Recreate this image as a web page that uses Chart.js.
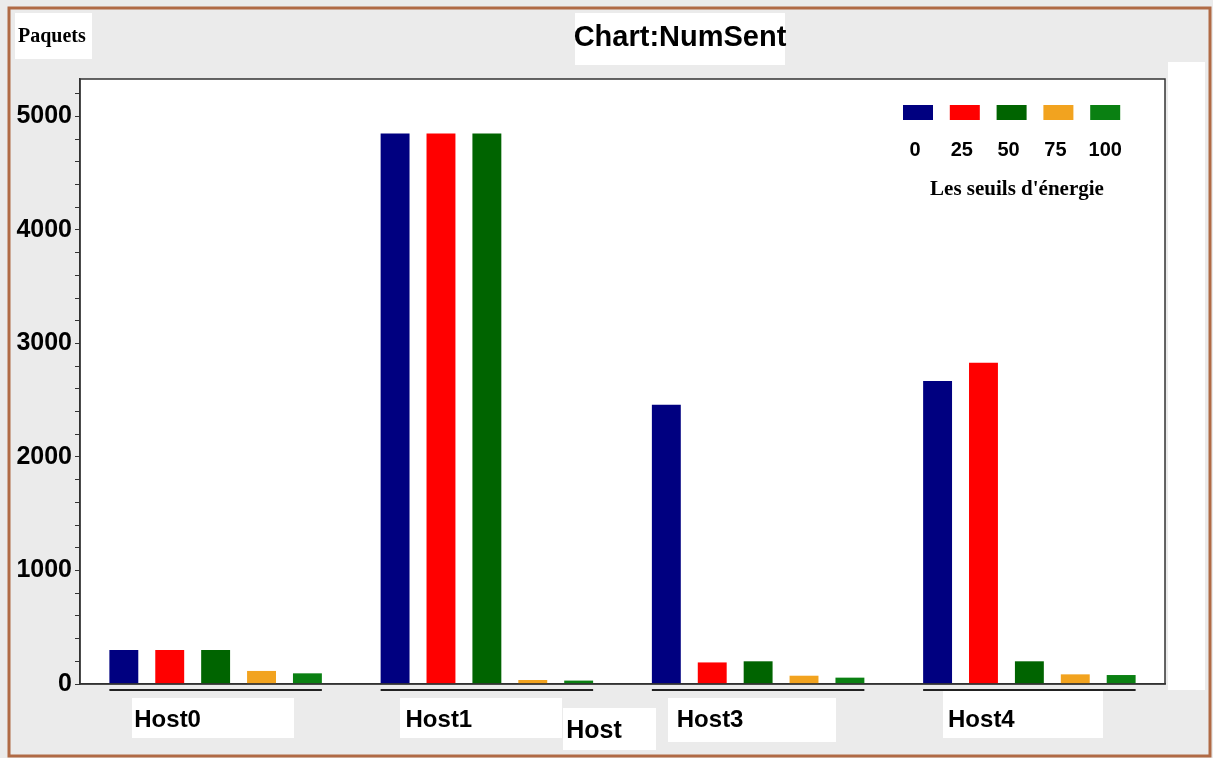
<!DOCTYPE html>
<html>
<head>
<meta charset="utf-8">
<title>Chart:NumSent</title>
<script src="https://cdn.jsdelivr.net/npm/chart.js@4"></script>
<style>
  html, body { margin: 0; padding: 0; background: #ebebeb; }
  #wrap { position: relative; width: 1213px; height: 758px; }
</style>
</head>
<body>
<div id="wrap"><canvas id="myChart" width="1213" height="758"></canvas></div>
<script>
//! DATA
const hosts = ['Host0', 'Host1', 'Host3', 'Host4'];
const thresholds = ['0', '25', '50', '75', '100'];
const sent0 = [300, 4850, 2460, 2670];
const sent25 = [300, 4850, 190, 2830];
const sent50 = [300, 4850, 200, 200];
const sent75 = [115, 35, 73, 85];
const sent100 = [94, 30, 56, 79];
const yLabels = [0, 1000, 2000, 3000, 4000, 5000];
const colors = ['#000080', '#ff0000', '#006400', '#f2a31f', '#0a8012'];

const serif = "'Liberation Serif', 'Times New Roman', serif";

//* use the narrow sans if it is installed (the original looks condensed)
function hasFont(name) {
    const c = document.createElement('canvas').getContext('2d');
    c.font = 'bold 40px monospace';
    const w1 = c.measureText('Host0 5000 NumSent').width;
    c.font = "bold 40px '" + name + "', monospace";
    const w2 = c.measureText('Host0 5000 NumSent').width;
    return w1 !== w2;
}
const narrow = hasFont('Liberation Sans Narrow');
const sans = narrow ? "'Liberation Sans Narrow', 'Liberation Sans', sans-serif" : "'Liberation Sans', Arial, sans-serif";
const fs = narrow
    ? { tick: 30, host: 29, title: 33, legend: 24, axis: 28 }
    : { tick: 25, host: 24, title: 29, legend: 20, axis: 25 };

//* one dataset per energy threshold
const series = [sent0, sent25, sent50, sent75, sent100];
const data = {
    labels: hosts,
    datasets: series.map((vals, i) => ({
        label: thresholds[i],
        data: vals,
        backgroundColor: colors[i],
        borderWidth: 0,
        categoryPercentage: 0.846,
        barPercentage: 0.63
    }))
};

//! DECORATION PLUGIN (frame, boxes, legend, group lines)
const decor = {
    id: 'decor',
    beforeDraw(chart) {
        const ctx = chart.ctx;
        const a = chart.chartArea;
        ctx.save();
        // background and brown frame
        ctx.fillStyle = '#ebebeb';
        ctx.fillRect(0, 0, chart.width, chart.height);
        ctx.strokeStyle = '#b06a45';
        ctx.lineWidth = 3;
        ctx.strokeRect(9, 8, chart.width - 12, chart.height - 10);
        // white patches behind texts
        ctx.fillStyle = '#ffffff';
        ctx.fillRect(15, 13, 77, 46);
        ctx.fillRect(575, 13, 210, 52);
        ctx.fillRect(a.right + 3, 62, 37, 628);
        ctx.fillRect(132, 698, 162, 40);
        ctx.fillRect(400, 698, 162, 40);
        ctx.fillRect(563, 708, 93, 42);
        ctx.fillRect(668, 698, 168, 44);
        ctx.fillRect(943, 690, 160, 48);
        // plot background
        ctx.fillRect(a.left, a.top, a.right - a.left, a.bottom - a.top);
        ctx.restore();
    },
    afterDraw(chart) {
        const ctx = chart.ctx;
        const a = chart.chartArea;
        ctx.save();
        // plot frame
        ctx.strokeStyle = '#333333';
        ctx.lineWidth = 1.5;
        ctx.strokeRect(a.left, a.top, a.right - a.left, a.bottom - a.top);

        // line under each host group
        const first = chart.getDatasetMeta(0).data;
        const last = chart.getDatasetMeta(chart.data.datasets.length - 1).data;
        ctx.strokeStyle = '#222222';
        ctx.lineWidth = 2;
        first.forEach((bar, i) => {
            const x0 = bar.x - bar.width / 2;
            const x1 = last[i].x + last[i].width / 2;
            ctx.beginPath();
            ctx.moveTo(x0, a.bottom + 6);
            ctx.lineTo(x1, a.bottom + 6);
            ctx.stroke();
        });

        // titles
        ctx.fillStyle = '#000000';
        ctx.textBaseline = 'middle';
        ctx.textAlign = 'center';
        ctx.font = 'bold ' + fs.title + 'px ' + sans;
        ctx.fillText('Chart:NumSent', 680, 38);
        ctx.textAlign = 'left';
        ctx.font = 'bold 20px ' + serif;
        ctx.fillText('Paquets', 18, 37);
        ctx.textAlign = 'center';
        ctx.font = 'bold ' + fs.axis + 'px ' + sans;
        ctx.fillText('Host', 594, 731);

        // legend in top right
        const lx = a.right - 262;
        chart.data.datasets.forEach((ds, i) => {
            const x = lx + i * 46.8;
            ctx.fillStyle = ds.backgroundColor;
            ctx.fillRect(x, 105, 30, 15);
            ctx.fillStyle = '#000000';
            ctx.font = 'bold ' + fs.legend + 'px ' + sans;
            ctx.fillText(ds.label, x + 12 + (i === 4 ? 3 : 0), 150);
        });
        ctx.font = 'bold 21px ' + serif;
        ctx.fillText("Les seuils d'énergie", lx + 114, 190);
        ctx.restore();
    }
};

//! CONFIG
const config = {
    type: 'bar',
    data,
    options: {
        responsive: false,
        animation: false,
        layout: {
            padding: { left: 0, top: 79, right: 48, bottom: 0 }
        },
        plugins: {
            legend: { display: false },
            title: { display: false },
            tooltip: { enabled: false }
        },
        scales: {
            x: {
                grid: { display: false, drawTicks: false },
                border: { display: true, color: '#333333', width: 1.5 },
                ticks: {
                    color: '#000000',
                    font: { family: sans, size: fs.host, weight: 'bold' },
                    padding: 22,
                    labelOffset: -48,
                    maxRotation: 0
                },
                afterFit(scale) { scale.height = 74; }
            },
            y: {
                min: 0,
                max: 5330,
                afterBuildTicks(scale) {
                    const t = [];
                    for (let v = 0; v <= 5200; v += 200) t.push({ value: v });
                    scale.ticks = t;
                },
                grid: {
                    display: true,
                    drawOnChartArea: false,
                    drawTicks: true,
                    tickLength: 5,
                    color: '#333333'
                },
                border: { display: true, color: '#333333', width: 1.5 },
                ticks: {
                    color: '#000000',
                    font: { family: sans, size: fs.tick, weight: 'bold' },
                    padding: 3,
                    autoSkip: false,
                    callback: v => yLabels.includes(v) ? String(v) : ''
                },
                afterFit(scale) { scale.width = 80; }
            }
        }
    },
    plugins: [decor]
};

//! CREATE CHART
const myChart = new Chart(document.getElementById('myChart'), config);
</script>
</body>
</html>
